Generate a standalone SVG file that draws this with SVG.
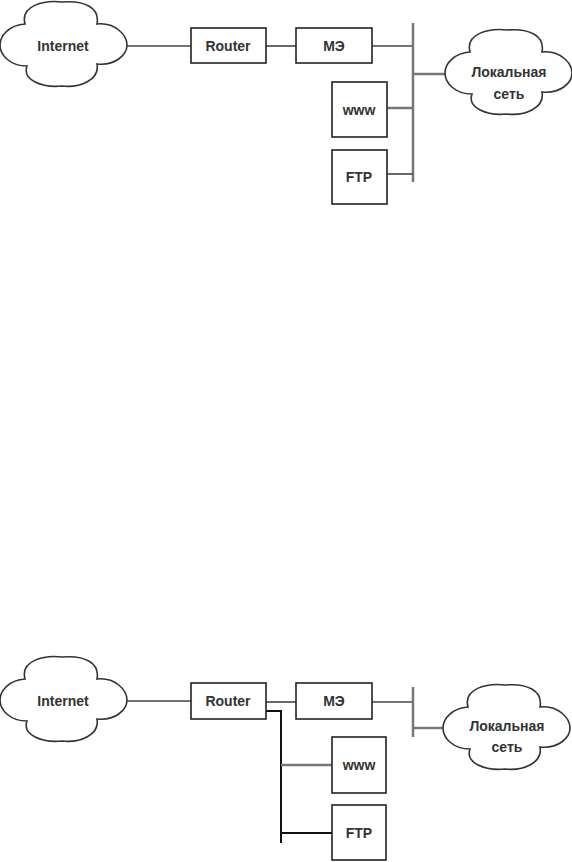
<svg xmlns="http://www.w3.org/2000/svg" width="572" height="862" viewBox="0 0 572 862">
<style>
.box{fill:#fff;stroke:#222;stroke-width:1.6}
.cloud{fill:#fff;stroke:#333;stroke-width:1.6}
.t{font-family:"Liberation Sans",Arial,sans-serif;font-size:14px;font-weight:bold;fill:#333;text-anchor:middle;dominant-baseline:central}
.ln{stroke:#444;stroke-width:1.6;fill:none}
.bus{stroke:#777;stroke-width:2.5;fill:none}
.br{stroke:#111;stroke-width:2;fill:none}
</style>
<defs>
<path id="cl" d="M25,24 C20,5 45,0 62,2 C85,0 100,8 97,24 C115,22 127,35 127,45 C127,55 115,66 97,64 C100,80 80,88 62,86 C42,88 22,80 27,66 C10,66 0,55 0,45 C0,35 10,25 25,24 Z"/>
</defs>
<rect width="572" height="862" fill="#fff"/>

<g id="connectors">
<!-- top -->
<line class="ln" x1="126" y1="46" x2="191" y2="46"/>
<line class="ln" x1="266" y1="46" x2="296" y2="46"/>
<line class="ln" x1="372" y1="46" x2="413" y2="46"/>
<line class="bus" x1="413" y1="23" x2="413" y2="182"/>
<line class="bus" x1="413" y1="74" x2="446" y2="74"/>
<line class="bus" x1="387" y1="108" x2="413" y2="108"/>
<line class="ln" x1="387" y1="174" x2="413" y2="174"/>
<!-- bottom -->
<line class="ln" x1="126" y1="701" x2="191" y2="701"/>
<line class="ln" x1="266" y1="702" x2="296" y2="702"/>
<line class="ln" x1="372" y1="702" x2="413" y2="702"/>
<line class="bus" x1="413" y1="687" x2="413" y2="737"/>
<line class="bus" x1="413" y1="728" x2="444" y2="728"/>
<polyline class="br" points="266,711 281,711 281,843"/>
<line class="bus" x1="281" y1="765" x2="332" y2="765"/>
<line class="br" x1="281" y1="833" x2="332" y2="833"/>
</g>

<!-- top diagram -->
<g id="internet1">
<use href="#cl" class="cloud" transform="translate(0,0)"/>
<text class="t" x="63" y="46">Internet</text>
</g>
<g id="router1">
<rect class="box" x="191" y="28" width="75" height="35"/>
<text class="t" x="228" y="46">Router</text>
</g>
<g id="me1">
<rect class="box" x="296" y="28" width="76" height="35"/>
<text class="t" x="334" y="46">МЭ</text>
</g>
<g id="lan1">
<use href="#cl" class="cloud" transform="translate(445,28)"/>
<text class="t" x="509" y="72">Локальная</text>
<text class="t" x="509" y="94">сеть</text>
</g>
<g id="www1">
<rect class="box" x="332" y="82" width="55" height="55"/>
<text class="t" x="359" y="110" fill="#666">www</text>
</g>
<g id="ftp1">
<rect class="box" x="332" y="150" width="55" height="54"/>
<text class="t" x="359" y="177">FTP</text>
</g>

<!-- bottom diagram -->
<g id="internet2">
<use href="#cl" class="cloud" transform="translate(0,655)"/>
<text class="t" x="63" y="701">Internet</text>
</g>
<g id="router2">
<rect class="box" x="191" y="683" width="75" height="36"/>
<text class="t" x="228" y="701">Router</text>
</g>
<g id="me2">
<rect class="box" x="296" y="683" width="76" height="36"/>
<text class="t" x="334" y="701">МЭ</text>
</g>
<g id="lan2">
<use href="#cl" class="cloud" transform="translate(443,683)"/>
<text class="t" x="507" y="726">Локальная</text>
<text class="t" x="507" y="747">сеть</text>
</g>
<g id="www2">
<rect class="box" x="332" y="737" width="54" height="56"/>
<text class="t" x="359" y="765">www</text>
</g>
<g id="ftp2">
<rect class="box" x="332" y="805" width="54" height="55"/>
<text class="t" x="359" y="833">FTP</text>
</g>
</svg>
